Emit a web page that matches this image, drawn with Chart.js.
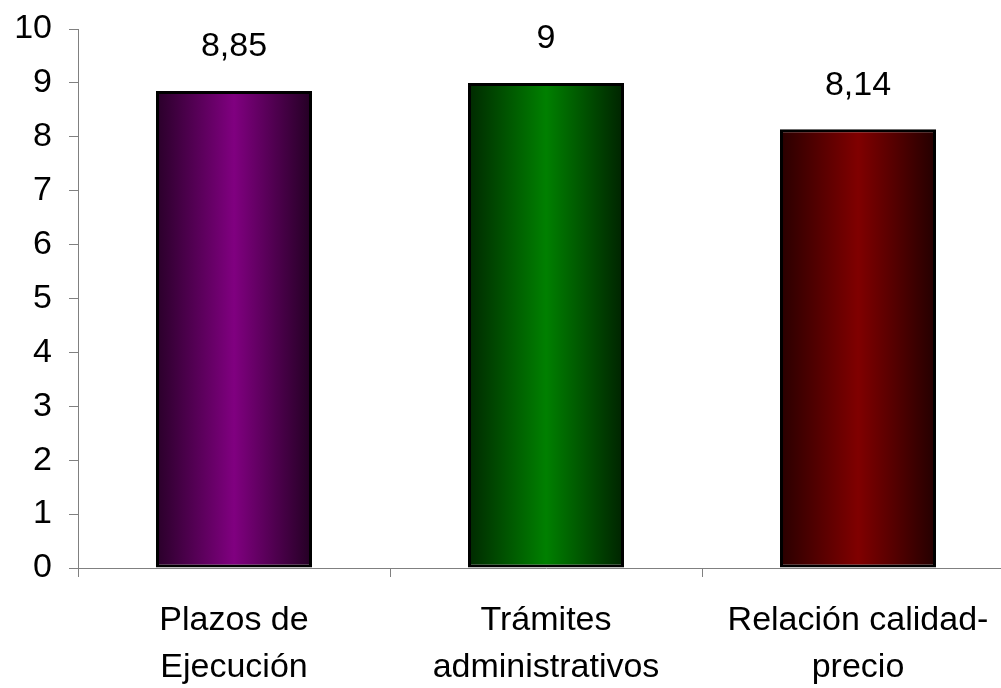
<!DOCTYPE html>
<html lang="es">
<head>
  <meta charset="UTF-8">
  <title>Valoración</title>
  <script src="https://cdn.jsdelivr.net/npm/chart.js"></script>
  <style>
    html, body {
      margin: 0;
      padding: 0;
      background: #fff;
      overflow: hidden;
    }
    #wrap {
      width: 1014px;
      height: 688px;
    }
  </style>
</head>
<body>
  <div id="wrap"><canvas id="chart"></canvas></div>

  <script>
    // data
    const categories = [['Plazos de', 'Ejecución'], ['Trámites', 'administrativos'], ['Relación calidad-', 'precio']];
    const scores = [8.85, 9, 8.14];
    const baseColors = [[128, 0, 128], [0, 128, 0], [128, 0, 0]];
    const yTicks = [0, 1, 2, 3, 4, 5, 6, 7, 8, 9, 10];

    const FONT = 'Liberation Sans, Arial, sans-serif';
    const BAR_PCT = 0.5;

    function shade(rgb, f) {
      return 'rgb(' + rgb.map(c => Math.round(c * f)).join(',') + ')';
    }

    // horizontal "cylinder" gradient, dark edges and bright middle
    function barFill(ctx) {
      const chart = ctx.chart;
      const x = chart.scales.x;
      const rgb = baseColors[ctx.dataIndex];
      if (!x || !chart.chartArea) return shade(rgb, 1);
      const cx = x.getPixelForValue(ctx.dataIndex);
      const half = (x.right - x.left) / categories.length * BAR_PCT / 2;
      const g = chart.ctx.createLinearGradient(cx - half, 0, cx + half, 0);
      g.addColorStop(0, shade(rgb, 0.32));
      g.addColorStop(0.5, shade(rgb, 1));
      g.addColorStop(1, shade(rgb, 0.27));
      return g;
    }

    // value labels above the bars
    const valueLabels = {
      id: 'valueLabels',
      afterDatasetsDraw(chart) {
        const c = chart.ctx;
        const meta = chart.getDatasetMeta(0);
        c.save();
        c.font = '34px ' + FONT;
        c.fillStyle = '#000';
        c.textAlign = 'center';
        c.textBaseline = 'middle';
        meta.data.forEach((bar, i) => {
          c.fillText(String(scores[i]).replace('.', ','), bar.x, bar.y - 44);
        });
        c.restore();
      }
    };

    new Chart(document.getElementById('chart'), {
      type: 'bar',
      data: {
        labels: categories,
        datasets: [{
          data: scores,
          backgroundColor: barFill,
          borderColor: '#000',
          borderWidth: 3,
          borderSkipped: false,
          barPercentage: BAR_PCT,
          categoryPercentage: 1
        }]
      },
      options: {
        responsive: true,
        maintainAspectRatio: false,
        animation: false,
        layout: { padding: { top: 0, right: 0, bottom: 0, left: 14 } },
        plugins: {
          legend: { display: false },
          tooltip: { enabled: false }
        },
        scales: {
          x: {
            afterFit: axis => { axis.height = 120; },
            grid: {
              offset: true,
              drawOnChartArea: false,
              drawTicks: true,
              tickLength: 9,
              color: '#808080'
            },
            border: { color: '#808080', width: 1 },
            ticks: {
              color: '#000',
              font: { family: FONT, size: 34, lineHeight: 1.38 },
              padding: 20,
              maxRotation: 0,
              autoSkip: false
            }
          },
          y: {
            min: 0,
            max: 10,
            afterBuildTicks: axis => { axis.ticks = yTicks.map(v => ({ value: v })); },
            afterFit: axis => { axis.width = 64; axis.paddingTop = 29; },
            grid: {
              drawOnChartArea: false,
              drawTicks: true,
              tickLength: 9,
              color: '#808080'
            },
            border: { color: '#808080', width: 1 },
            ticks: {
              color: '#000',
              font: { family: FONT, size: 34 },
              padding: 17
            }
          }
        }
      },
      plugins: [valueLabels]
    });
  </script>
</body>
</html>
